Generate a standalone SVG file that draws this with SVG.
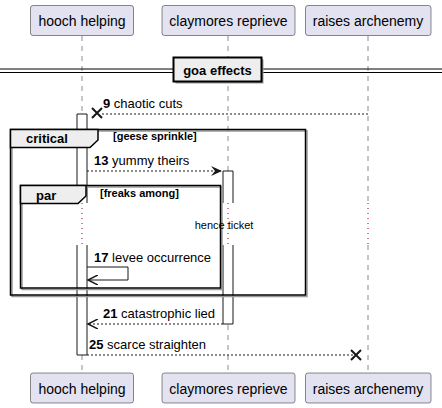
<svg xmlns="http://www.w3.org/2000/svg" width="442" height="408" viewBox="0 0 442 408">
<style>
.part rect{fill:#E2E2F0;stroke:#181818;stroke-width:0.5}
.part text{font-family:"Liberation Sans",Arial,sans-serif;font-size:14px;fill:#000}
.life{stroke:#181818;stroke-width:0.5;stroke-dasharray:5,5;fill:none}
.delay{stroke:#990033;stroke-width:1;stroke-dasharray:1,4;fill:none}
.act{fill:#FFFFFF;stroke:#181818;stroke-width:1}
.msg{stroke:#181818;stroke-width:1;fill:none}
.dash{stroke-dasharray:2,2}
.lbl{font-family:"Liberation Sans",Arial,sans-serif;font-size:13px;fill:#000}
.num{font-weight:bold}
.frame{fill:none;stroke:#000;stroke-width:1.5}
.shadow{fill:none;stroke:#999999;stroke-width:1.5}
.tab{fill:#EEEEEE;stroke:#000;stroke-width:1.5}
.ftitle{font-family:"Liberation Sans",Arial,sans-serif;font-size:13px;font-weight:bold;fill:#000}
.fcond{font-family:"Liberation Sans",Arial,sans-serif;font-size:11px;font-weight:bold;fill:#000}
</style>
<defs>
<marker id="open" markerWidth="12" markerHeight="10" refX="10" refY="5" orient="auto" markerUnits="userSpaceOnUse">
<path d="M0,0 L10,5 L0,10" fill="none" stroke="#181818" stroke-width="1.5"/>
</marker>
<marker id="filled" markerWidth="12" markerHeight="10" refX="11" refY="5" orient="auto" markerUnits="userSpaceOnUse">
<path d="M0,0 L11,5 L0,10 L4,5 Z" fill="#181818"/>
</marker>
</defs>
<g id="lifelines">
<line class="life" x1="82" y1="36" x2="82" y2="203"/>
<line class="life" x1="82" y1="245" x2="82" y2="373"/>
<line class="delay" x1="82" y1="203" x2="82" y2="245"/>
<line class="life" x1="228" y1="36" x2="228" y2="203"/>
<line class="life" x1="228" y1="245" x2="228" y2="373"/>
<line class="delay" x1="228" y1="203" x2="228" y2="245"/>
<line class="life" x1="368" y1="36" x2="368" y2="203"/>
<line class="life" x1="368" y1="245" x2="368" y2="373"/>
<line class="delay" x1="368" y1="203" x2="368" y2="245"/>
</g>
<g id="activations">
<path class="act" d="M77,203 L77,114 L87,114 L87,203"/>
<path class="act" d="M77,245 L77,355 L87,355 L87,245"/>
<path class="act" d="M223,203 L223,171 L233,171 L233,203"/>
<path class="act" d="M223,245 L223,324 L233,324 L233,245"/>
</g>
<g id="divider">
<line x1="0" y1="69" x2="442" y2="69" stroke="#000" stroke-width="1"/>
<line x1="0" y1="72.5" x2="442" y2="72.5" stroke="#000" stroke-width="1"/>
<rect x="175.5" y="59.5" width="88" height="24" fill="#999999" stroke="none"/>
<rect x="173.5" y="57.5" width="88" height="24" fill="#EEEEEE" stroke="#000" stroke-width="2"/>
<text x="217.5" y="75" text-anchor="middle" class="ftitle">goa effects</text>
</g>
<g id="critical">
<rect class="shadow" x="12" y="131" width="295" height="165.5"/>
<rect class="frame" x="10.5" y="129.5" width="295" height="165.5"/>
<path class="tab" d="M10.5,129.5 L98,129.5 L98,140 L90,147.5 L10.5,147.5 Z"/>
<text x="26" y="143" class="ftitle">critical</text>
<text x="113" y="140" class="fcond">[geese sprinkle]</text>
</g>
<g id="par">
<rect class="shadow" x="22" y="187" width="200" height="102.5"/>
<rect class="frame" x="20.5" y="185.5" width="200" height="102.5"/>
<path class="tab" d="M20.5,185.5 L86,185.5 L86,196 L78,203.5 L20.5,203.5 Z"/>
<text x="36" y="200" class="ftitle">par</text>
<text x="100" y="197" class="fcond">[freaks among]</text>
</g>
<g id="delay-label">
<text x="224" y="229" text-anchor="middle" font-family="Liberation Sans, Arial, sans-serif" font-size="11px" fill="#000">hence ticket</text>
</g>
<g id="connectors">
<g id="m9">
<line class="msg dash" x1="368" y1="114" x2="102" y2="114"/>
<path d="M92,108 L102,118 M92,118 L102,108" stroke="#181818" stroke-width="2" fill="none"/>
<text x="103" y="108" class="lbl"><tspan class="num">9</tspan> chaotic cuts</text>
</g>
<g id="m13">
<line class="msg dash" x1="87" y1="171" x2="222" y2="171" marker-end="url(#filled)"/>
<text x="94" y="165" class="lbl"><tspan class="num">13</tspan> yummy theirs</text>
</g>
<g id="m17">
<path class="msg" d="M87,267 L128,267 L128,280 L88,280" marker-end="url(#open)"/>
<text x="94" y="262" class="lbl"><tspan class="num">17</tspan> levee occurrence</text>
</g>
<g id="m21">
<line class="msg dash" x1="223" y1="324" x2="88" y2="324" marker-end="url(#open)"/>
<text x="103" y="318" class="lbl"><tspan class="num">21</tspan> catastrophic lied</text>
</g>
<g id="m25">
<line class="msg dash" x1="87" y1="355" x2="356" y2="355"/>
<path d="M351,350 L361,360 M351,360 L361,350" stroke="#181818" stroke-width="2" fill="none"/>
<text x="89" y="349" class="lbl"><tspan class="num">25</tspan> scarce straighten</text>
</g>
</g>
<g id="hooch-helping" class="part">
<rect x="30.5" y="5.5" width="103" height="30" rx="2.5"/>
<text x="82" y="26" text-anchor="middle">hooch helping</text>
<rect x="30.5" y="373" width="103" height="30" rx="2.5"/>
<text x="82" y="393.5" text-anchor="middle">hooch helping</text>
</g>
<g id="claymores-reprieve" class="part">
<rect x="162" y="5.5" width="133" height="30" rx="2.5"/>
<text x="228.5" y="26" text-anchor="middle">claymores reprieve</text>
<rect x="162" y="373" width="133" height="30" rx="2.5"/>
<text x="228.5" y="393.5" text-anchor="middle">claymores reprieve</text>
</g>
<g id="raises-archenemy" class="part">
<rect x="305.5" y="5.5" width="125.5" height="30" rx="2.5"/>
<text x="368" y="26" text-anchor="middle">raises archenemy</text>
<rect x="305.5" y="373" width="125.5" height="30" rx="2.5"/>
<text x="368" y="393.5" text-anchor="middle">raises archenemy</text>
</g>
</svg>
